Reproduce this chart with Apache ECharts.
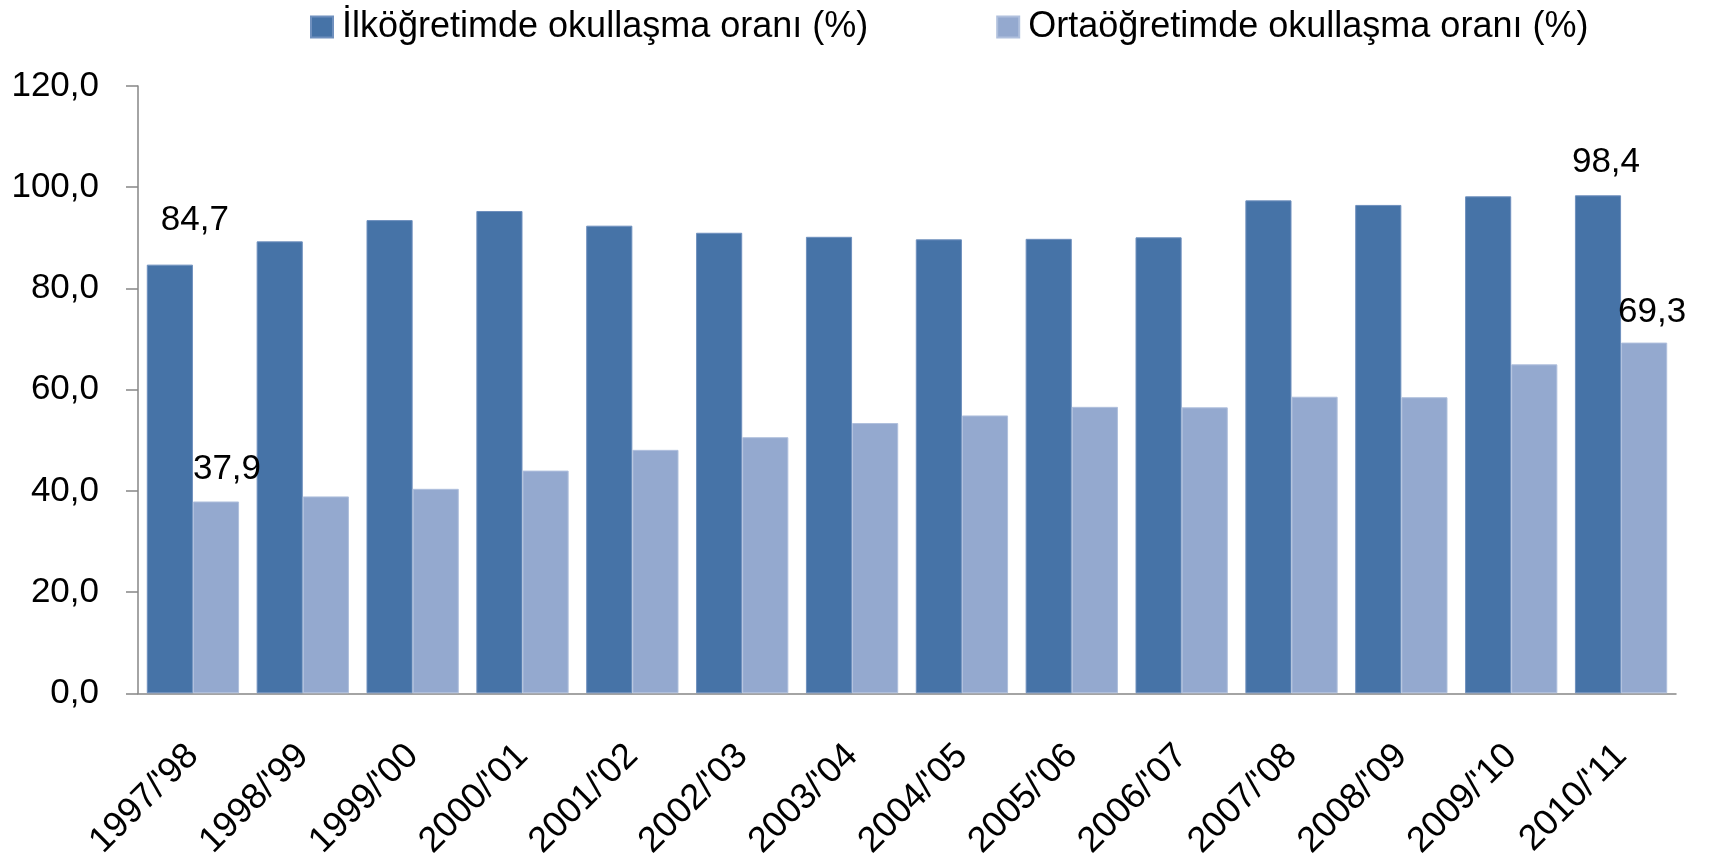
<!DOCTYPE html>
<html lang="tr">
<head>
    <meta charset="UTF-8">
    <title>Okullaşma oranları</title>
    <script src="https://cdn.jsdelivr.net/npm/echarts@6/dist/echarts.min.js"></script>
    <style type="text/css">
        html, body {
            margin: 0;
            padding: 0;
            background: #fff;
        }

        #chart {
            width: 1715px;
            height: 862px;
        }
    </style>
</head>
<body>

<div id="chart"></div>

<script>
    // veriler
    var years = ["1997/'98", "1998/'99", "1999/'00", "2000/'01", "2001/'02", "2002/'03", "2003/'04",
        "2004/'05", "2005/'06", "2006/'07", "2007/'08", "2008/'09", "2009/'10", "2010/'11"];
    var ilkogretim = [84.7, 89.3, 93.5, 95.3, 92.4, 91.0, 90.2, 89.7, 89.8, 90.1, 97.4, 96.5, 98.2, 98.4];
    var ortaogretim = [37.9, 38.9, 40.4, 44.0, 48.1, 50.6, 53.4, 54.9, 56.6, 56.5, 58.6, 58.5, 65.0, 69.3];
    var seriesNames = ['İlköğretimde okullaşma oranı (%)', 'Ortaöğretimde okullaşma oranı (%)'];
    var yTicks = [0, 20, 40, 60, 80, 100, 120];

    var FONT = 'Liberation Sans';

    function fmt(v) {
        return v.toFixed(1).replace('.', ',');
    }

    // only first and last bars carry a value label
    function withLabels(values, offsets) {
        return values.map(function (v, i) {
            var off = offsets[i];
            if (!off) return v;
            return {
                value: v,
                label: {
                    show: true,
                    position: 'top',
                    distance: 0,
                    offset: off,
                    formatter: function (p) { return fmt(p.value); },
                    fontFamily: FONT,
                    fontSize: 35,
                    color: '#000'
                }
            };
        });
    }

    var chart = echarts.init(document.getElementById('chart'));

    chart.setOption({
        animation: false,
        textStyle: {fontFamily: FONT},
        legend: {
            left: 305,
            top: 4,
            itemWidth: 22,
            itemHeight: 21,
            itemGap: 128,
            icon: 'rect',
            textStyle: {fontFamily: FONT, fontSize: 36, color: '#000', padding: [0, 0, 0, 4]},
            data: seriesNames
        },
        grid: {
            left: 138,
            right: 39,
            top: 86,
            bottom: 164
        },
        xAxis: {
            type: 'category',
            data: years,
            axisLine: {lineStyle: {color: '#868686', width: 1.5}},
            axisTick: {length: 13, lineStyle: {color: '#868686', width: 1.5}},
            axisLabel: {
                rotate: 45,
                margin: 57,
                fontFamily: FONT,
                fontSize: 36,
                color: '#000'
            }
        },
        yAxis: {
            type: 'value',
            min: yTicks[0],
            max: yTicks[yTicks.length - 1],
            interval: 20,
            splitLine: {show: false},
            axisLine: {show: true, lineStyle: {color: '#868686', width: 1.5}},
            axisTick: {show: true, length: 12, lineStyle: {color: '#868686', width: 1.5}},
            axisLabel: {
                margin: 39,
                fontFamily: FONT,
                fontSize: 35,
                color: '#000',
                formatter: fmt
            }
        },
        series: [{
            name: seriesNames[0],
            type: 'bar',
            barGap: '0%',
            barCategoryGap: '16%',
            itemStyle: {color: '#4673A7', borderColor: '#6F90BE', borderWidth: 1},
            data: withLabels(ilkogretim, {0: [25, -27], 13: [8, -15]})
        }, {
            name: seriesNames[1],
            type: 'bar',
            barGap: '0%',
            barCategoryGap: '16%',
            itemStyle: {color: '#94A9CF', borderColor: '#B0C0DD', borderWidth: 1},
            data: withLabels(ortaogretim, {0: [11, -15], 13: [8, -13]})
        }]
    });
</script>

</body>
</html>
